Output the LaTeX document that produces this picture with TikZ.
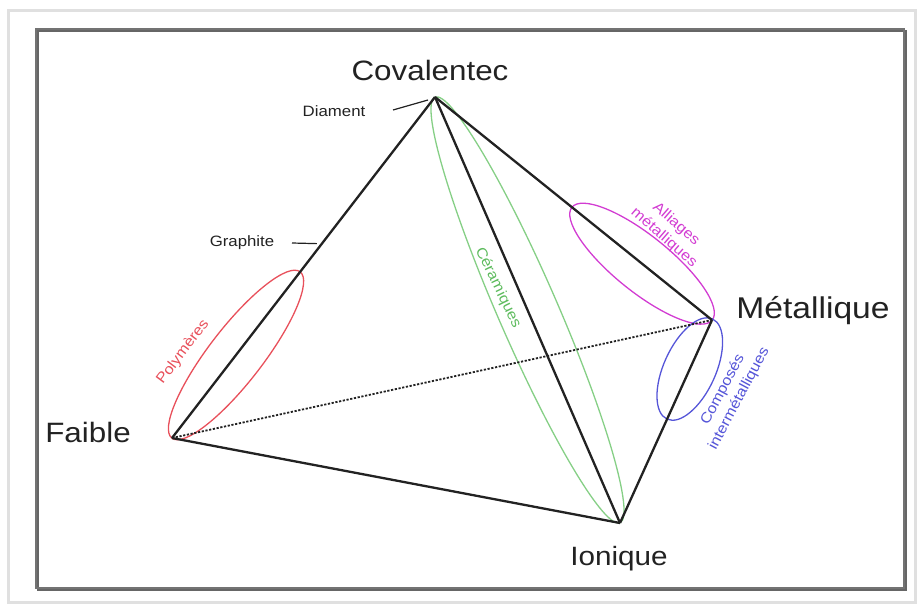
\documentclass[tikz,border=0pt]{standalone}
\usepackage{fontspec}
\setmainfont[FakeStretch=1.12]{Liberation Sans}
\usetikzlibrary{calc}
\definecolor{edgecol}{HTML}{222222}
\definecolor{txtcol}{HTML}{222222}
\definecolor{polred}{HTML}{E8505B}
\definecolor{cergreen}{HTML}{86CF86}
\definecolor{certxt}{HTML}{5DBB5D}
\definecolor{allmag}{HTML}{D23CD2}
\definecolor{cpblue}{HTML}{5555D8}
\tikzset{
  edge/.style={draw=edgecol, line width=2.3pt},
  hidden/.style={draw=edgecol, line width=1.8pt, dash pattern=on 2.2pt off 1.6pt},
  bigtxt/.style={text=txtcol, font=\fontsize{28}{30}\selectfont, inner sep=0pt, anchor=base},
  smalltxt/.style={text=txtcol, font=\fontsize{15}{17}\selectfont, inner sep=0pt, anchor=base},
  famtxt/.style={font=\fontsize{14.5}{18.5}\selectfont, inner sep=0pt, align=center},
  lead/.style={draw=txtcol, line width=1.2pt},
  fam/.style={line width=1.3pt}
}
\begin{document}
\begin{tikzpicture}[x=1pt,y=-1pt]
\useasboundingbox (0,0) rectangle (920,605);
% frames
\draw[draw=black!12, line width=3pt] (8,10) rectangle (915,602);
\draw[draw=black!60, line width=2.4pt] (38,31) rectangle (906,590);
\draw[draw=black!55, line width=1.2pt] (36,29) rectangle (904,588);
% vertices
\coordinate (C) at (435,97);
\coordinate (F) at (172,438);
\coordinate (I) at (620,523);
\coordinate (M) at (712,320);
% family ellipses
\coordinate (pc) at ($(F)!0.2435!(C)$);
\draw[fam, draw=polred, rotate around={52.35:(pc)}] (pc) ellipse [x radius=105pt, y radius=27pt];
\coordinate (cc) at ($(C)!0.5!(I)$);
\draw[fam, draw=cergreen, rotate around={-66.5:(cc)}] (cc) ellipse [x radius=232pt, y radius=30pt];
\coordinate (ac) at ($(M)!0.2525!(C)$);
\draw[fam, draw=allmag, rotate around={-38.8:(ac)}] (ac) ellipse [x radius=90pt, y radius=28pt];
\coordinate (bc) at ($(M)!0.2415!(I)$);
\draw[fam, draw=cpblue, rotate around={65.6:(bc)}] (bc) ellipse [x radius=55pt, y radius=26pt];
% edges
\draw[hidden] (F) -- (M);
\draw[edge] (C) -- (F);
\draw[edge] (C) -- (I);
\draw[edge] (C) -- (M);
\draw[edge] (F) -- (I);
\draw[edge] (I) -- (M);
% vertex labels
\node[bigtxt] (lc) at (430,80) {Covalentec};
\node[bigtxt] (lf) at (88,442) {Faible};
\node[bigtxt, font=\fontsize{30}{32}\selectfont] (lm) at (813,318) {Métallique};
\node[bigtxt, font=\fontsize{26.5}{28}\selectfont] (li) at (619,565) {Ionique};
% small labels with leaders
\node[smalltxt] (ld) at (334,116) {Diament};
\coordinate (dl) at (428,100);
\draw[lead] (393,110) -- (dl);
\node[smalltxt] (lg) at (242,246) {Graphite};
\coordinate (gl) at ($(C)!0.43!(F)$);
\draw[lead] (292,243) -- ($(gl)+(-5,0)$);
% family labels
\node[famtxt, text=polred, rotate=53] (lp) at (183,352) {Polymères};
\node[famtxt, text=certxt, rotate=-64] (lcer) at (498,288) {Céramiques};
\node[famtxt, text=allmag, rotate=-41] (lal) at (670,231) {Alliages\\métalliques};
\node[famtxt, text=cpblue, rotate=62] (lcp) at (731,394) {Composés\\intermétalliques};
\end{tikzpicture}
\end{document}
